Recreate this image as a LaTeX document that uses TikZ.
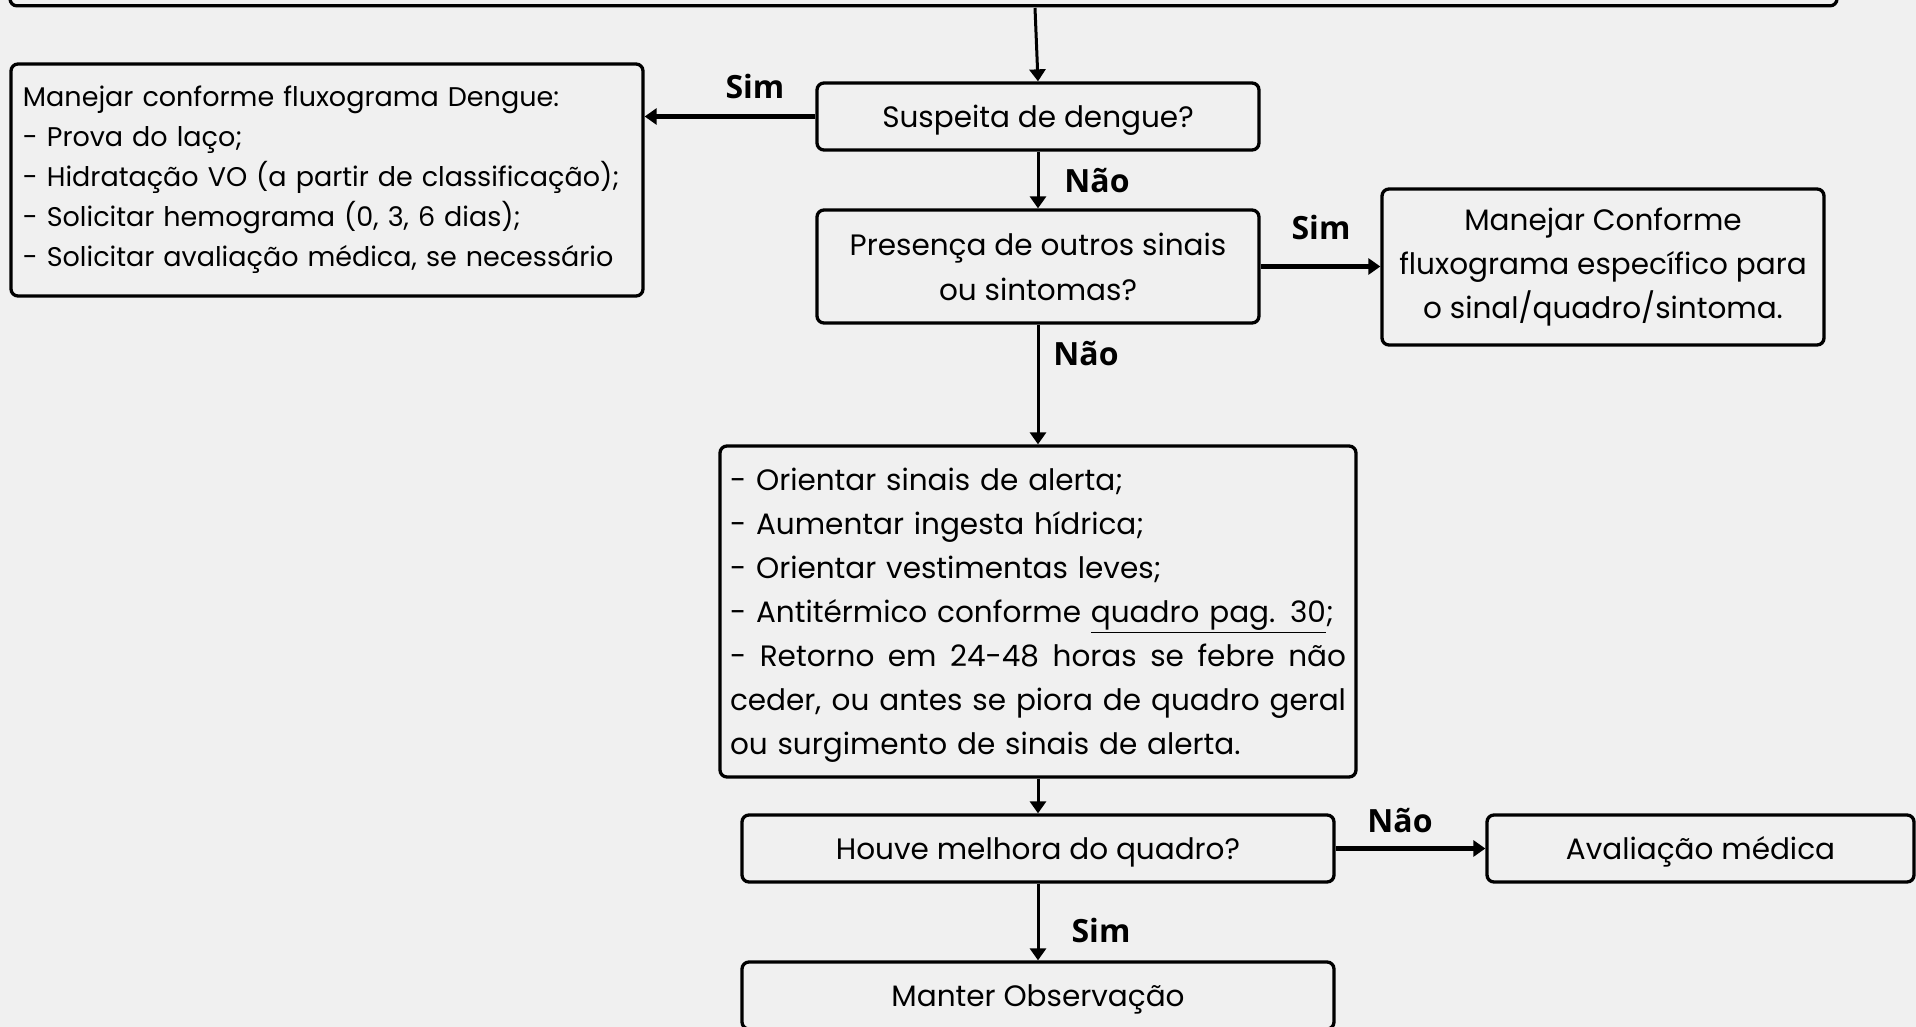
\documentclass[tikz,border=0pt]{standalone}
\usepackage{fontspec}
\setmainfont{Poppins}
\newfontfamily\lblfont{Open Sans}
\usetikzlibrary{arrows.meta}
\definecolor{bg}{HTML}{F0F0F0}
\newcommand\fillline[1]{\leavevmode\hbox to 616pt{\spaceskip=\fontdimen2\font plus 1fil\relax #1}}
\newcommand\lowstrut{\rule{0pt}{29.5pt}}
\begin{document}
\begin{tikzpicture}[x=1pt,y=-1pt,
  box/.style={draw, line width=3.3pt, rounded corners=7pt, fill=bg, inner sep=0pt, font=\fontsize{29.5}{44}\selectfont},
  arr/.style={line width=3pt, -{Triangle[length=12pt,width=16pt]}},
  harr/.style={arr, line width=4.5pt},
  lbl/.style={font=\lblfont\bfseries\fontsize{32}{38}\selectfont, inner sep=0pt}]
\clip (0,0) rectangle (1916,1027);
\fill[bg] (0,0) rectangle (1916,1027);

\node[box, minimum width=1827pt, minimum height=100pt, anchor=south] (topbox) at (923.5,7.5) {};
\coordinate (t1) at (1035,8);

\node[box, minimum width=442pt, minimum height=67pt] (susp) at (1038,116.5) {\lowstrut Suspeita de dengue?};
\node[box, minimum width=632pt, minimum height=232pt, align=left, text width=608pt, font=\fontsize{27}{40}\selectfont] (deng) at (327,180)
 {Manejar conforme fluxograma Dengue:\\
  - Prova do laço;\\
  - Hidratação VO (a partir de classificação);\\
  - Solicitar hemograma (0, 3, 6 dias);\\
  - Solicitar avaliação médica, se necessário};
\node[box, minimum width=442pt, minimum height=113pt, align=center, font=\fontsize{29.5}{45}\selectfont] (pres) at (1038,266.5)
 {Presença de outros sinais\\ou sintomas?};
\node[box, minimum width=442pt, minimum height=156pt, align=center] (mc) at (1603,267)
 {Manejar Conforme\\fluxograma específico para\\o sinal/quadro/sintoma.};
\node[box, minimum width=636pt, minimum height=331pt, align=left, text width=616pt] (ori) at (1038,611.5)
 {\rule{0pt}{30pt}- Orientar sinais de alerta;\\
  - Aumentar ingesta hídrica;\\
  - Orientar vestimentas leves;\\
  - Antitérmico conforme \underline{quadro pag. 30};\\
  \fillline{- Retorno em 24-48 horas se febre não}\\
  \fillline{ceder, ou antes se piora de quadro geral}\\
  ou surgimento de sinais de alerta.};
\node[box, minimum width=592pt, minimum height=67pt] (houve) at (1038,848.5) {\lowstrut Houve melhora do quadro?};
\node[box, minimum width=427pt, minimum height=67pt] (aval) at (1700.5,848.5) {\lowstrut Avaliação médica};
\node[box, minimum width=592pt, minimum height=67pt] (manter) at (1038,995.5) {\lowstrut Manter Observação};

\draw[arr] (t1) -- (susp.north);
\draw[harr] (susp.west) -- (susp.west -| deng.east);
\draw[arr] (susp.south) -- (pres.north);
\draw[harr] (pres.east) -- (pres.east -| mc.west);
\draw[arr] (pres.south) -- (ori.north);
\draw[arr] (ori.south) -- (houve.north);
\draw[harr] (houve.east) -- (aval.west);
\draw[arr] (houve.south) -- (manter.north);

\node[lbl] (l1) at (755,87) {Sim};
\node[lbl] (l2) at (1097,181) {Não};
\node[lbl] (l3) at (1321,227) {Sim};
\node[lbl] (l4) at (1086,354) {Não};
\node[lbl] (l5) at (1400,821) {Não};
\node[lbl] (l6) at (1101,930) {Sim};
\end{tikzpicture}
\end{document}
